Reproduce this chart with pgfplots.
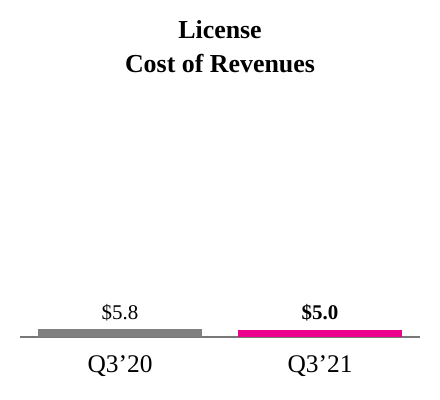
\documentclass[border=0pt]{standalone}
\usepackage{fontspec}
\setmainfont{Liberation Serif}
\usepackage{pgfplots}
\pgfplotsset{compat=1.18}
\definecolor{barGray}{RGB}{128,128,128}
\definecolor{barPink}{RGB}{236,0,140}
\definecolor{lineGray}{RGB}{120,120,120}
\begin{document}
\begin{tikzpicture}
    \useasboundingbox (0,0) rectangle (440bp,400bp);
    \begin{axis}[
        scale only axis,
        width=400bp, height=257bp,
        at={(20bp,63bp)}, anchor=south west,
        xmin=-0.5, xmax=1.5,
        ymin=0, ymax=186,
        axis x line=bottom,
        axis y line=none,
        axis line style={-, lineGray, line width=1.6bp},
        xtick={0,1},
        xticklabels={Q3’20, Q3’21},
        ytick=\empty,
        major tick length=0pt,
        x tick label style={font=\fontsize{25.5}{28}\selectfont, anchor=base, yshift=-35bp, inner sep=0pt},
        title={License\\Cost of Revenues},
        title style={font=\bfseries\fontsize{26}{34}\selectfont, align=center,
            at={(0.5,1)}, anchor=south, yshift=1bp, inner sep=0pt},
        ybar,
        bar width=164bp,
        clip=false,
        nodes near coords,
        every node near coord/.append style={font=\fontsize{21}{24}\selectfont, color=black,
            anchor=base, inner sep=0pt},
        every axis plot/.append style={ybar, bar shift=0pt, draw=none},
    ]
        % Q3'20
        \addplot[fill=barGray, nodes near coords={\$5.8},
            every node near coord/.append style={yshift=9.5bp}] coordinates {(0,5.8)};
        % Q3'21
        \addplot[fill=barPink, nodes near coords={\textbf{\$5.0}},
            every node near coord/.append style={yshift=10.6bp}] coordinates {(1,5.0)};
    \end{axis}
\end{tikzpicture}
\end{document}
